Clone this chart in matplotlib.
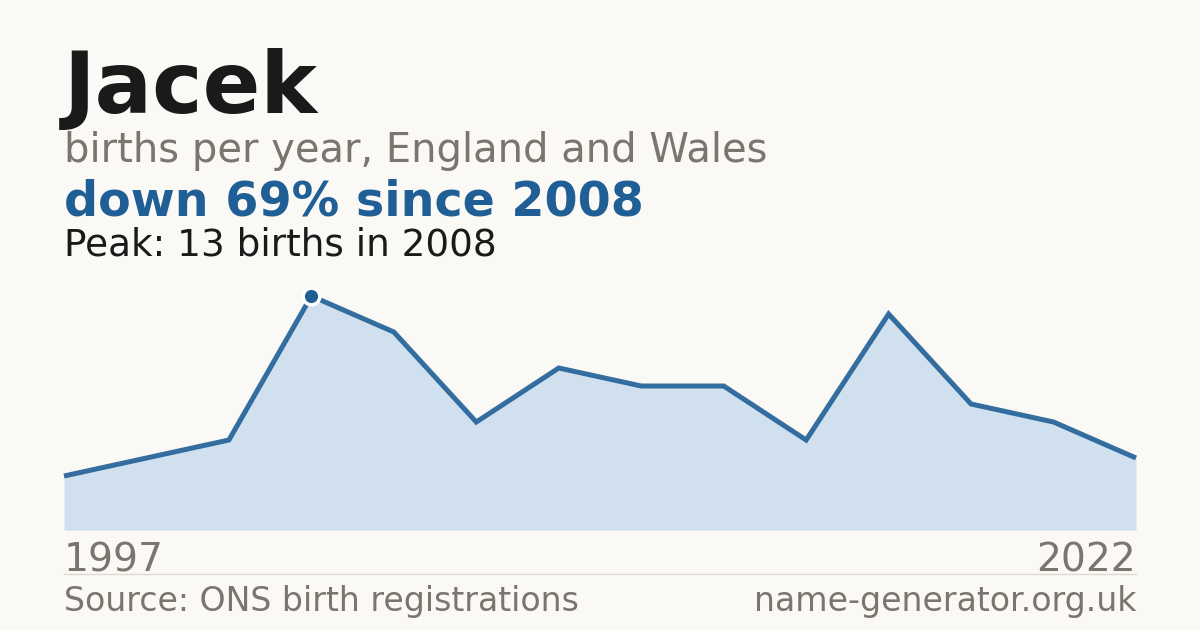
import matplotlib
matplotlib.use("Agg")
import matplotlib.pyplot as plt

# births per listed year (x drawn by index, years only at the ends)
years = [1997, 2001, 2005, 2008, 2010, 2011, 2013, 2014, 2015, 2016, 2018, 2019, 2021, 2022]
births = [3, 4, 5, 13, 11, 6, 9, 8, 8, 5, 12, 7, 6, 4]
peak_year = 2008
peak_value = 13

BG = "#faf9f5"
BLUE = "#1f5f96"
FILL = "#d0e0ef"
GREY = "#7a756d"
INK = "#1a1a1a"

W, H = 1200, 630
fig = plt.figure(figsize=(12, 6.3), dpi=100, facecolor=BG)


def fy(px):
    return 1 - px / H


ax = fig.add_axes([64 / W, fy(530), (1136 - 64) / W, (530 - 296) / H])
ax.set_facecolor(BG)
x = list(range(len(births)))
ax.fill_between(x, births, 0, color=FILL, lw=0)
ax.plot(x, births, color=BLUE, lw=3.6, alpha=0.9, solid_joinstyle="miter",
        solid_capstyle="butt", clip_on=False)
pi = years.index(peak_year)
ax.plot(x[pi], births[pi], marker="o", ms=12, color=BLUE, mec="white", mew=2.5,
        clip_on=False, zorder=5)
ax.set_xlim(0, len(births) - 1)
ax.set_ylim(0, peak_value)
ax.axis("off")

fig.text(64 / W, fy(113), "Jacek", fontsize=61.3, fontweight="bold", color=INK, va="baseline")
fig.text(64 / W, fy(162), "births per year, England and Wales", fontsize=28.8, color=GREY, va="baseline")
drop = round((births[pi] - births[-1]) / births[pi] * 100)
fig.text(64 / W, fy(215), f"down {drop}% since {peak_year}", fontsize=34.3, fontweight="bold",
         color=BLUE, va="baseline")
fig.text(64 / W, fy(255), f"Peak: {peak_value} births in {peak_year}", fontsize=26.9, color=INK,
         va="baseline")

fig.text(64 / W, fy(571), str(years[0]), fontsize=28.3, color=GREY, va="baseline")
fig.text(1136 / W, fy(571), str(years[-1]), fontsize=28.3, color=GREY, va="baseline", ha="right")
fig.add_artist(plt.Line2D([64 / W, 1136 / W], [fy(574), fy(574)], color="#dedbd4", lw=1))
fig.text(64 / W, fy(611), "Source: ONS birth registrations", fontsize=23.9, color=GREY, va="baseline")
fig.text(1136 / W, fy(611), "name-generator.org.uk", fontsize=23.9, color=GREY, va="baseline", ha="right")

fig.savefig("out.png", dpi=100, facecolor=BG)
